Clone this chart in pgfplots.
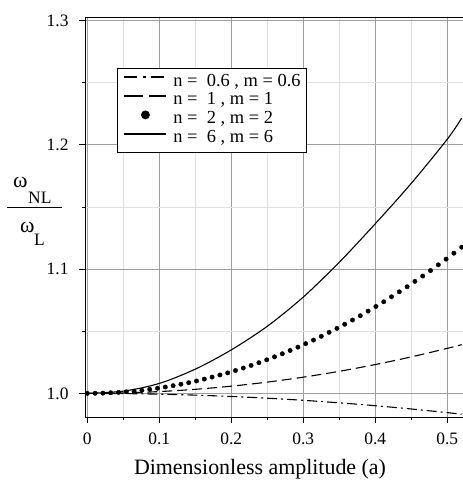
\documentclass[border=0pt]{standalone}
\usepackage{fontspec}
\setmainfont{Liberation Serif}
\usepackage{pgfplots}
\pgfplotsset{compat=1.18}
\begin{document}
\begin{tikzpicture}
\begin{axis}[
  at={(0,0)}, anchor=south west,
  scale only axis, width=378bp, height=400bp,
  xmin=-0.0032, xmax=0.5218, ymin=0.981, ymax=1.3028,
  xtick={0,0.1,0.2,0.3,0.4,0.5}, minor xtick={0.05,0.15,0.25,0.35,0.45},
  ytick={1.0,1.1,1.2,1.3}, minor ytick={1.05,1.15,1.25},
  xticklabels={0,0.1,0.2,0.3,0.4,0.5},
  yticklabels={1.0,1.1,1.2,1.3},
  grid=both,
  major grid style={color=black!38, line width=0.8bp},
  minor grid style={color=black!12, line width=0.8bp},
  tick align=outside, tick pos=left,
  major tick length=6bp, minor tick length=3bp,
  every tick/.style={black, line width=0.6bp},
  axis line style={line width=0.8bp},
  tick label style={font=\fontsize{17.5}{18}\selectfont},
  xticklabel style={yshift=-6bp},
  yticklabel style={xshift=-7bp},
  /pgf/number format/assume math mode=true,
  legend style={at={(axis description cs:0.0847,0.872)}, anchor=north west,
    draw=black, line width=0.8bp, font=\fontsize{18.5}{19}\selectfont,
    inner xsep=6bp, inner ysep=4.5bp, row sep=0bp,
    nodes={inner sep=0bp, text height=13bp, text depth=5.7bp},
    /tikz/every odd column/.append style={column sep=6bp}},
  legend cell align=left,
]
\addplot[black, line width=1.1bp, dash pattern=on 10bp off 4bp on 2bp off 4bp, smooth,
  legend image code/.code={\draw[black, line width=2bp, dash pattern=on 13bp off 6bp on 2.5bp off 5.5bp] (0bp,5bp) -- (42bp,5bp);}]
  coordinates {(0,1.0) (0.05,0.99984) (0.1,0.99938) (0.15,0.9986) (0.2,0.99752) (0.25,0.99612) (0.3,0.99442) (0.35,0.9924) (0.4,0.99008) (0.45,0.98744) (0.5,0.9845) (0.52,0.98324)};
\addlegendentry{n =\ \ 0.6 , m = 0.6}
\addplot[black, line width=1.1bp, dash pattern=on 10bp off 5bp, smooth,
  legend image code/.code={\draw[black, line width=2bp, dash pattern=on 19bp off 6bp] (0bp,5bp) -- (42bp,5bp);}]
  coordinates {(0,1.0) (0.05,1.00036) (0.1,1.00145) (0.15,1.00326) (0.2,1.0058) (0.25,1.00906) (0.3,1.01305) (0.35,1.01776) (0.4,1.0232) (0.45,1.02936) (0.5,1.03625) (0.52,1.0392)};
\addlegendentry{n =\ \ 1 , m = 1}
\addplot[only marks, mark=*, mark size=2.2bp, black,
  legend image code/.code={\fill[black] (21bp,5bp) circle (4bp);}]
  coordinates {(0,1.0000) (0.01083,1.0001) (0.02167,1.0002) (0.0325,1.0005) (0.04333,1.0008) (0.05417,1.0013) (0.065,1.0018) (0.07583,1.0025) (0.08667,1.0033) (0.0975,1.0041) (0.10833,1.0051) (0.11917,1.0062) (0.13,1.0074) (0.14083,1.0086) (0.15167,1.0100) (0.1625,1.0115) (0.17333,1.0131) (0.18417,1.0148) (0.195,1.0165) (0.20583,1.0184) (0.21667,1.0204) (0.2275,1.0225) (0.23833,1.0247) (0.24917,1.0270) (0.26,1.0294) (0.27083,1.0319) (0.28167,1.0345) (0.2925,1.0372) (0.30333,1.0400) (0.31417,1.0429) (0.325,1.0459) (0.33583,1.0491) (0.34667,1.0523) (0.3575,1.0556) (0.36833,1.0590) (0.37917,1.0625) (0.39,1.0662) (0.40083,1.0699) (0.41167,1.0737) (0.4225,1.0777) (0.43333,1.0817) (0.44417,1.0858) (0.455,1.0901) (0.46583,1.0944) (0.47667,1.0988) (0.4875,1.1034) (0.49833,1.1080) (0.50917,1.1128) (0.52,1.1176)};
\addlegendentry{n =\ \ 2 , m = 2}
\addplot[black, line width=1.1bp, smooth,
  legend image code/.code={\draw[black, line width=2bp] (0bp,5bp) -- (42bp,5bp);}]
  coordinates {(0,1.0) (0.05,1.0018) (0.1,1.0080) (0.15,1.0195) (0.2,1.0350) (0.25,1.0540) (0.3,1.0775) (0.35,1.1055) (0.4,1.1365) (0.45,1.1690) (0.5,1.2045) (0.52,1.2215)};
\addlegendentry{n =\ \ 6 , m = 6}
\end{axis}
% axis label
\node[anchor=base, inner sep=0, font=\fontsize{22}{24}\selectfont] at (175bp,-57bp) {Dimensionless amplitude (a)};
% y label as a fraction
\draw[line width=1bp] (-78bp,209bp) -- (-23bp,209bp);
\node[anchor=base west, inner sep=0, font=\fontsize{22}{24}\selectfont] at (-72bp,229bp) {ω};
\node[anchor=base west, inner sep=0, font=\fontsize{17.5}{18}\selectfont] at (-57bp,213bp) {NL};
\node[anchor=base west, inner sep=0, font=\fontsize{22}{24}\selectfont] at (-65bp,184bp) {ω};
\node[anchor=base west, inner sep=0, font=\fontsize{17.5}{18}\selectfont] at (-51bp,171bp) {L};
\pgfresetboundingbox
\path[use as bounding box] (-85bp,-63bp) rectangle (378bp,417bp);
\end{tikzpicture}
\end{document}
